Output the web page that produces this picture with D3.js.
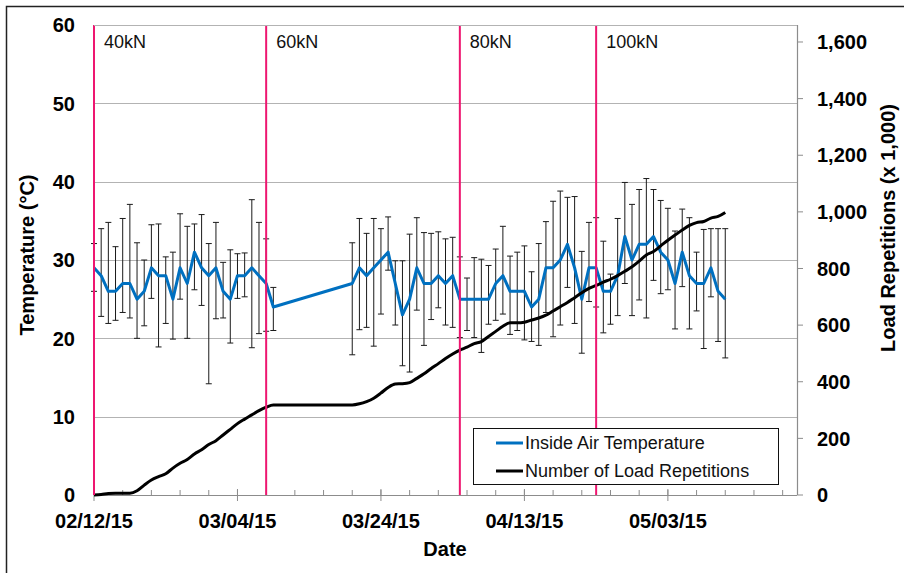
<!DOCTYPE html>
<html>
<head>
<meta charset="utf-8">
<script src="https://cdn.jsdelivr.net/npm/d3@7/dist/d3.min.js"></script>
<style>
  html, body { margin: 0; padding: 0; background: #fff; }
  svg { display: block; font-family: "Liberation Sans", Arial, sans-serif; }
</style>
</head>
<body>
<svg id="chart" width="904" height="573"></svg>
<script>
// ---------------- DATA ----------------
const tempDates = [
  "2/12/15","2/13/15","2/14/15","2/15/15","2/16/15","2/17/15","2/18/15","2/19/15","2/20/15","2/21/15",
  "2/22/15","2/23/15","2/24/15","2/25/15","2/26/15","2/27/15","2/28/15","3/1/15","3/2/15","3/3/15",
  "3/4/15","3/5/15","3/6/15","3/7/15","3/8/15","3/9/15",
  "3/20/15","3/21/15","3/22/15","3/23/15","3/24/15","3/25/15","3/26/15","3/27/15","3/28/15","3/29/15",
  "3/30/15","3/31/15","4/1/15","4/2/15","4/3/15","4/4/15","4/5/15",
  "4/6/15","4/7/15","4/8/15","4/9/15","4/10/15","4/11/15","4/12/15","4/13/15","4/14/15","4/15/15",
  "4/16/15","4/17/15","4/18/15","4/19/15","4/20/15","4/21/15","4/22/15","4/23/15","4/24/15","4/25/15",
  "4/26/15","4/27/15","4/28/15","4/29/15","4/30/15","5/1/15","5/2/15","5/3/15","5/4/15","5/5/15",
  "5/6/15","5/7/15","5/8/15","5/9/15","5/10/15","5/11/15"
];
const tempValues = [
  29,28,26,26,27,27,25,26,29,28,28,25,29,27,31,29,28,29,26,25,28,28,29,28,27,24,
  27,29,28,29,30,31,27,23,25,29,27,27,28,27,28,25,25,
  25,25,25,27,28,26,26,26,24,25,29,29,30,32,29,25,29,29,26,26,
  28,33,30,32,32,33,31,30,27,31,28,27,27,29,26,25
];
const tempUpper = [
  32.1,34.0,34.8,31.7,35.3,37.1,32.2,30.0,34.5,34.6,30.4,31.0,35.9,34.3,34.6,35.8,32.1,34.8,29.7,31.3,30.8,30.9,37.7,34.8,32.7,26.5,
  32.2,35.3,33.4,35.3,34.0,35.5,29.9,29.9,33.3,35.4,33.5,33.4,33.6,32.7,32.9,30.4,27.7,
  30.3,30.1,29.3,31.4,34.3,30.5,31.0,31.8,28.5,32.1,34.9,37.5,38.8,38.0,38.1,31.1,34.8,35.4,32.4,28.2,
  35.3,39.9,37.1,39.0,40.4,39.0,37.6,36.6,33.7,36.5,35.4,31.0,33.9,34.0,34.0,34.0
];
const tempLower = [
  26.0,22.8,21.9,22.3,23.3,22.6,20.0,21.6,25.1,18.9,21.9,19.9,25.0,20.0,26.2,24.2,14.2,22.5,22.6,19.4,25.1,25.3,18.8,20.6,20.9,21.0,
  17.9,21.1,21.4,19.0,23.1,28.7,21.7,16.5,15.7,23.6,19.1,22.4,23.9,21.7,21.4,20.1,21.0,
  20.1,18.2,21.8,22.3,23.1,20.5,21.0,19.8,19.6,19.1,23.3,20.2,21.7,26.5,21.9,18.1,24.7,24.0,20.7,21.8,
  22.9,27.0,22.9,24.9,22.6,27.4,25.7,26.2,21.2,26.6,21.2,23.5,18.7,25.3,19.6,17.5
];
// Number of load repetitions (x 1,000), one value per day starting 02/12/15
const loadStart = "2/12/15";
const loadValues = [
  0,2,5,6,6,6,15,35,53,65,75,95,112,125,145,160,178,192,212,232,
  252,268,283,298,310,318,318,318,318,318,318,318,318,318,318,318,
  318,322,330,342,360,380,392,393,397,412,428,447,464,482,498,512,522,
  535,542,560,578,596,608,608,610,618,625,635,650,665,680,697,714,730,
  740,752,762,775,790,806,826,848,860,880,900,918,936,952,962,966,978,984,998
];
const phaseDates = ["2/12/15","3/8/15","4/4/15","4/23/15"];
const phaseLabels = ["40kN","60kN","80kN","100kN"];
const xTickLabels = ["02/12/15","03/04/15","03/24/15","04/13/15","05/03/15"];
const xDomainLabels = ["02/12/15","05/21/15"];
const yLeftTicks = [0,10,20,30,40,50,60];
const yRightTicks = [0,200,400,600,800,1000,1200,1400,1600];
const yRightMax = 1660;
const seriesNames = ["Inside Air Temperature","Number of Load Repetitions"];

// ---------------- SETUP ----------------
const parse = d3.timeParse("%m/%d/%y");
const svg = d3.select("#chart");
const L = 94, R = 797, T = 25, B = 495;
const pink = "#EE1670", blue = "#0070C0", grid = "#B3B3B3";

const x = d3.scaleTime().domain(xDomainLabels.map(parse)).range([L, R]);
const yL = d3.scaleLinear().domain([0, 60]).range([B, T]);
const yR = d3.scaleLinear().domain([0, yRightMax]).range([B, T]);

// outer border
svg.append("rect").attr("x", 6.5).attr("y", 6.5).attr("width", 920).attr("height", 600)
  .attr("fill", "none").attr("stroke", "#222").attr("stroke-width", 1.5);

// gridlines
svg.append("g").selectAll("line").data(yLeftTicks.filter(d => d > 0)).join("line")
  .attr("x1", L).attr("x2", R)
  .attr("y1", d => Math.round(yL(d)) + 0.5).attr("y2", d => Math.round(yL(d)) + 0.5)
  .attr("stroke", grid).attr("stroke-width", 1.2);

// bottom axis (date)
const xMajor = xTickLabels.map(parse);
const start = parse(xTickLabels[0]);
const xMinor = d3.range(0, 99, 4).map(k => d3.timeDay.offset(start, k));
const gx = svg.append("g");
gx.append("line").attr("x1", L).attr("x2", R).attr("y1", B + 0.5).attr("y2", B + 0.5)
  .attr("stroke", "#8c8c8c").attr("stroke-width", 1.2);
gx.selectAll("line.minor").data(xMinor).join("line").attr("class", "minor")
  .attr("x1", d => x(d)).attr("x2", d => x(d)).attr("y1", B - 5).attr("y2", B)
  .attr("stroke", "#8c8c8c");
gx.selectAll("line.major").data(xMajor).join("line").attr("class", "major")
  .attr("x1", d => x(d)).attr("x2", d => x(d)).attr("y1", B - 6).attr("y2", B + 6)
  .attr("stroke", "#8c8c8c");
gx.selectAll("text").data(xMajor).join("text")
  .attr("x", d => x(d)).attr("y", 528).attr("text-anchor", "middle")
  .attr("font-size", 20).attr("font-weight", "bold").attr("fill", "#000")
  .text(d => d3.timeFormat("%m/%d/%y")(d));

// left axis labels
svg.append("g").selectAll("text").data(yLeftTicks).join("text")
  .attr("x", 75).attr("y", d => yL(d)).attr("dy", "0.36em").attr("text-anchor", "end")
  .attr("font-size", 20).attr("font-weight", "bold").text(d => d);

// right axis
const gr = svg.append("g");
gr.append("line").attr("x1", R + 0.5).attr("x2", R + 0.5).attr("y1", T).attr("y2", B)
  .attr("stroke", "#8c8c8c").attr("stroke-width", 1.2);
gr.selectAll("line.t").data(yRightTicks).join("line").attr("class", "t")
  .attr("x1", R).attr("x2", R + 6).attr("y1", d => yR(d)).attr("y2", d => yR(d))
  .attr("stroke", "#8c8c8c");
gr.selectAll("text").data(yRightTicks).join("text")
  .attr("x", 817).attr("y", d => yR(d)).attr("dy", "0.36em")
  .attr("font-size", 20).attr("font-weight", "bold").text(d => d3.format(",")(d));

// axis titles
svg.append("text").attr("transform", "translate(34,255) rotate(-90)")
  .attr("text-anchor", "middle").attr("font-size", 20).attr("font-weight", "bold")
  .text("Temperature (°C)");
svg.append("text").attr("transform", "translate(895,228) rotate(-90)")
  .attr("text-anchor", "middle").attr("font-size", 20).attr("font-weight", "bold")
  .text("Load Repetitions (x 1,000)");
svg.append("text").attr("x", 445).attr("y", 556).attr("text-anchor", "middle")
  .attr("font-size", 20).attr("font-weight", "bold").text("Date");

// temperature data
const temp = tempDates.map((d, i) => ({ date: parse(d), v: tempValues[i], hi: tempUpper[i], lo: tempLower[i] }));

// error bars
const eb = svg.append("g").attr("stroke", "#1a1a1a").attr("stroke-width", 1);
eb.selectAll("line.v").data(temp).join("line").attr("class", "v")
  .attr("x1", d => x(d.date)).attr("x2", d => x(d.date))
  .attr("y1", d => yL(d.hi)).attr("y2", d => yL(d.lo));
eb.selectAll("line.hi").data(temp).join("line").attr("class", "hi")
  .attr("x1", d => x(d.date) - 3).attr("x2", d => x(d.date) + 3)
  .attr("y1", d => yL(d.hi)).attr("y2", d => yL(d.hi));
eb.selectAll("line.lo").data(temp).join("line").attr("class", "lo")
  .attr("x1", d => x(d.date) - 3).attr("x2", d => x(d.date) + 3)
  .attr("y1", d => yL(d.lo)).attr("y2", d => yL(d.lo));

// temperature line
svg.append("path").datum(temp)
  .attr("d", d3.line().x(d => x(d.date)).y(d => yL(d.v)))
  .attr("fill", "none").attr("stroke", blue).attr("stroke-width", 3).attr("stroke-linejoin", "round");

// load line
const loadStartDate = parse(loadStart);
const load = loadValues.map((v, i) => ({ date: d3.timeDay.offset(loadStartDate, i), v }));
svg.append("path").datum(load)
  .attr("d", d3.line().curve(d3.curveMonotoneX).x(d => x(d.date)).y(d => yR(d.v)))
  .attr("fill", "none").attr("stroke", "#000").attr("stroke-width", 3).attr("stroke-linejoin", "round");

// phase lines
const ph = svg.append("g");
ph.selectAll("line").data(phaseDates.map(parse)).join("line")
  .attr("x1", d => x(d)).attr("x2", d => x(d)).attr("y1", T).attr("y2", B)
  .attr("stroke", pink).attr("stroke-width", 2);
ph.selectAll("text").data(phaseDates.map(parse)).join("text")
  .attr("x", d => x(d) + 10).attr("y", 48)
  .attr("font-size", 18).attr("fill", "#111").text((d, i) => phaseLabels[i]);

// top gridline on top
svg.append("line").attr("x1", L).attr("x2", R).attr("y1", T + 0.5).attr("y2", T + 0.5)
  .attr("stroke", grid).attr("stroke-width", 1.2);

// legend
const lg = svg.append("g");
lg.append("rect").attr("x", 473.5).attr("y", 428.5).attr("width", 305).attr("height", 56)
  .attr("fill", "#fff").attr("stroke", "#111").attr("stroke-width", 1);
const lgColors = [blue, "#000"];
seriesNames.forEach((name, i) => {
  const yy = 443 + i * 28;
  lg.append("line").attr("x1", 496).attr("x2", 523).attr("y1", yy).attr("y2", yy)
    .attr("stroke", lgColors[i]).attr("stroke-width", 3);
  lg.append("text").attr("x", 525).attr("y", yy).attr("dy", "0.36em")
    .attr("font-size", 18).attr("fill", "#111").text(name);
});
</script>
</body>
</html>
